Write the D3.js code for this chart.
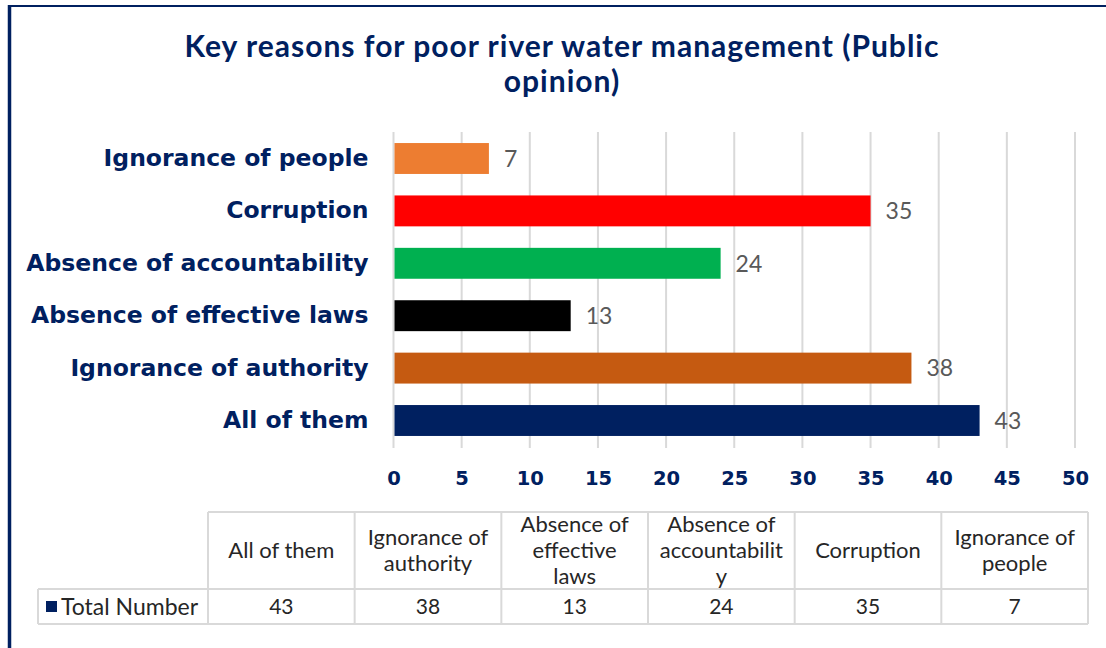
<!DOCTYPE html>
<html>
<head>
<meta charset="utf-8">
<script src="https://cdn.jsdelivr.net/npm/d3@7"></script>
<style>
  html, body { margin: 0; padding: 0; background: #ffffff; }
  svg { display: block; }
</style>
</head>
<body>
<svg id="chart" width="1106" height="648"></svg>
<script>
// Survey results: key reasons for poor river water management
const categories = [
  "All of them",
  "Ignorance of authority",
  "Absence of effective laws",
  "Absence of accountability",
  "Corruption",
  "Ignorance of people"
];
const totalNumber = [43, 38, 13, 24, 35, 7];
const barColors = ["#002060", "#C55A11", "#000000", "#00B050", "#FF0000", "#ED7D31"];
const tableHeaders = [
  ["All of them"],
  ["Ignorance of", "authority"],
  ["Absence of", "effective", "laws"],
  ["Absence of", "accountabilit", "y"],
  ["Corruption"],
  ["Ignorance of", "people"]
];
const xTicks = [0, 5, 10, 15, 20, 25, 30, 35, 40, 45, 50];
const seriesName = "Total Number";
const titleLines = ["Key reasons for poor river water management (Public", "opinion)"];

const navy = "#002060";
const gridColor = "#D9D9D9";

const svg = d3.select("#chart");
const rows = categories.map((c, i) => ({ name: c, value: totalNumber[i], color: barColors[i] }));

// Frame (top and left rules)
svg.append("line").attr("x1", 8).attr("x2", 1106).attr("y1", 6).attr("y2", 6)
  .attr("stroke", navy).attr("stroke-width", 2);
svg.append("line").attr("x1", 9.5).attr("x2", 9.5).attr("y1", 5).attr("y2", 648)
  .attr("stroke", navy).attr("stroke-width", 3.5);

// Title
svg.append("text")
  .attr("x", 562).attr("y", 57)
  .attr("text-anchor", "middle")
  .attr("font-family", "Lato, sans-serif").attr("font-weight", "bold")
  .attr("font-size", 30).attr("letter-spacing", 1).attr("fill", navy)
  .selectAll("tspan").data(titleLines).join("tspan")
  .attr("x", 562).attr("dy", (d, i) => i === 0 ? 0 : 35)
  .text(d => d);

// Scales
const x = d3.scaleLinear().domain([0, 50]).range([393.5, 1075]);
const y = d3.scaleBand()
  .domain(categories.slice().reverse())
  .range([132.3, 446.7])
  .paddingInner(0.41)
  .paddingOuter(0.205);

// Vertical gridlines
svg.append("g").selectAll("line").data(xTicks).join("line")
  .attr("x1", d => x(d)).attr("x2", d => x(d))
  .attr("y1", 132).attr("y2", 448)
  .attr("stroke", gridColor).attr("stroke-width", 2);

// Bars
svg.append("g").selectAll("rect").data(rows).join("rect")
  .attr("x", x(0) + 1)
  .attr("y", d => y(d.name))
  .attr("width", d => x(d.value) - x(0) - 1)
  .attr("height", y.bandwidth())
  .attr("fill", d => d.color);

// Value labels
svg.append("g").selectAll("text").data(rows).join("text")
  .attr("x", d => x(d.value) + 15)
  .attr("y", d => y(d.name) + y.bandwidth() / 2)
  .attr("dy", "0.36em")
  .attr("font-family", "Lato, sans-serif")
  .attr("font-size", 23).attr("fill", "#595959")
  .text(d => d.value);

// Category axis (left)
const yAxis = svg.append("g").attr("transform", `translate(${x(0)},0)`)
  .call(d3.axisLeft(y).tickSize(0).tickPadding(25));
yAxis.select(".domain").remove();
yAxis.selectAll("text")
  .attr("font-family", "'DejaVu Sans', sans-serif").attr("font-weight", "bold")
  .attr("font-size", 23.5).attr("fill", navy);

// Value axis (bottom)
const xAxis = svg.append("g").attr("transform", "translate(0,448)")
  .call(d3.axisBottom(x).tickValues(xTicks).tickSize(0).tickPadding(23));
xAxis.select(".domain").remove();
xAxis.selectAll("text")
  .attr("font-family", "'DejaVu Sans', sans-serif").attr("font-weight", "bold")
  .attr("font-size", 19.5).attr("fill", navy);

// Data table beneath the chart
const tableLeft = 208, tableRight = 1088, legendLeft = 38;
const headerTop = 512, rowTop = 589, rowBottom = 624;
const col = d3.scaleBand().domain(d3.range(categories.length)).range([tableLeft, tableRight]);
const tbl = svg.append("g");

const tableLines = [
  // horizontal
  [tableLeft, headerTop, tableRight, headerTop],
  [legendLeft, rowTop, tableRight, rowTop],
  [legendLeft, rowBottom, tableRight, rowBottom],
  // legend cell sides
  [legendLeft, rowTop, legendLeft, rowBottom]
];
d3.range(categories.length + 1).forEach(i => {
  const cx = i < categories.length ? col(i) : tableRight;
  tableLines.push([cx, headerTop, cx, rowBottom]);
});
tbl.selectAll("line").data(tableLines).join("line")
  .attr("x1", d => d[0]).attr("y1", d => d[1]).attr("x2", d => d[2]).attr("y2", d => d[3])
  .attr("stroke", gridColor).attr("stroke-width", 2);

const headerMid = (headerTop + rowTop) / 2;
const lineH = 26;
tbl.append("g").selectAll("text").data(tableHeaders).join("text")
  .attr("text-anchor", "middle")
  .attr("font-family", "Lato, sans-serif").attr("font-size", 22).attr("fill", "#262626")
  .each(function(lines, i) {
    const t = d3.select(this);
    const cx = col(i) + col.bandwidth() / 2;
    const startY = headerMid - (lines.length - 1) * lineH / 2;
    t.selectAll("tspan").data(lines).join("tspan")
      .attr("x", cx)
      .attr("y", (d, k) => startY + k * lineH)
      .attr("dy", "0.35em")
      .text(d => d);
  });

const rowMid = (rowTop + rowBottom) / 2;
tbl.append("g").selectAll("text").data(totalNumber).join("text")
  .attr("x", (d, i) => col(i) + col.bandwidth() / 2)
  .attr("y", rowMid).attr("dy", "0.35em")
  .attr("text-anchor", "middle")
  .attr("font-family", "Lato, sans-serif").attr("font-size", 21).attr("fill", "#262626")
  .text(d => d);

// Legend key inside the table
tbl.append("rect").attr("x", 46).attr("y", rowMid - 5.5).attr("width", 11).attr("height", 11)
  .attr("fill", barColors[0]);
tbl.append("text").attr("x", 61).attr("y", rowMid).attr("dy", "0.35em")
  .attr("font-family", "Lato, sans-serif").attr("font-size", 23).attr("fill", "#262626")
  .text(seriesName);
</script>
</body>
</html>
